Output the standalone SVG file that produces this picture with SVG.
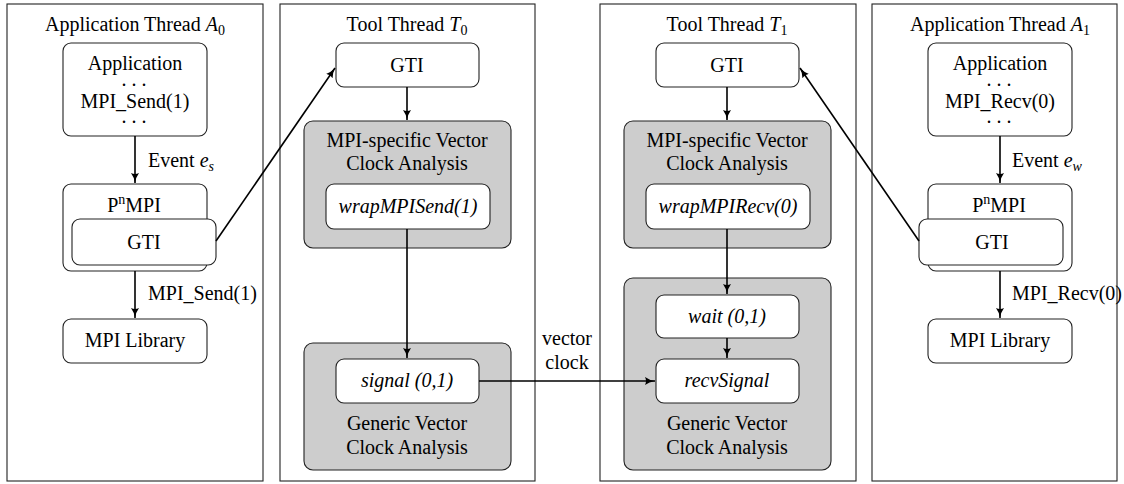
<svg xmlns="http://www.w3.org/2000/svg" width="1124" height="484" viewBox="0 0 1124 484">
  <defs>
    <style>
      text { font-family: 'Liberation Serif', 'Times New Roman', serif; font-size: 20px; fill: #000; text-anchor: middle; }
      .it { font-style: italic; }
      .lbl { text-anchor: start; }
      .sub { font-size: 14px; }
      .panel { fill: #fff; stroke: #222; stroke-width: 1.1; }
      .box { fill: #fff; stroke: #222; stroke-width: 1.1; }
      .gray { fill: #cdcdcd; stroke: #222; stroke-width: 1.1; }
      .conn { fill: none; stroke: #000; stroke-width: 1.6; }
    </style>
    <marker id="arrow" markerUnits="userSpaceOnUse" markerWidth="11" markerHeight="9" refX="10" refY="4.5" orient="auto">
      <path d="M0,0.5 Q4,3.5 10,4.5 Q4,5.5 0,8.5 Q2,4.5 0,0.5 z" fill="#000"/>
    </marker>
  </defs>

  <!-- thread panels -->
  <g id="panel-a0">
    <rect class="panel" x="7" y="4" width="256" height="477"/>
    <text x="135" y="31">Application Thread <tspan class="it">A</tspan><tspan class="sub" dy="4">0</tspan></text>
  </g>
  <g id="panel-t0">
    <rect class="panel" x="280" y="4" width="255" height="477"/>
    <text x="407" y="31">Tool Thread <tspan class="it">T</tspan><tspan class="sub" dy="4">0</tspan></text>
  </g>
  <g id="panel-t1">
    <rect class="panel" x="600" y="4" width="256" height="477"/>
    <text x="727" y="31">Tool Thread <tspan class="it">T</tspan><tspan class="sub" dy="4">1</tspan></text>
  </g>
  <g id="panel-a1">
    <rect class="panel" x="872" y="4" width="245" height="477"/>
    <text x="1000" y="31">Application Thread <tspan class="it">A</tspan><tspan class="sub" dy="4">1</tspan></text>
  </g>

  <!-- application thread A0 -->
  <g id="a0-application">
    <rect class="box" x="63" y="43" width="144" height="93" rx="8"/>
    <text x="135" y="70">Application</text>
    <text x="134" y="86">. . .</text>
    <text x="135" y="108">MPI_Send(1)</text>
    <text x="134" y="123">. . .</text>
  </g>
  <g id="a0-pnmpi">
    <rect class="box" x="63" y="184" width="144" height="87" rx="8"/>
    <text x="134" y="212">P<tspan class="sub" dy="-8">n</tspan><tspan dy="8">MPI</tspan></text>
  </g>
  <g id="a0-gti">
    <rect class="box" x="72" y="219" width="144" height="46" rx="8"/>
    <text x="144" y="249">GTI</text>
  </g>
  <g id="a0-mpilib">
    <rect class="box" x="63" y="319" width="144" height="44" rx="8"/>
    <text x="135" y="347">MPI Library</text>
  </g>

  <!-- tool thread T0 -->
  <g id="t0-gti">
    <rect class="box" x="336" y="43" width="143" height="44" rx="8"/>
    <text x="407" y="72">GTI</text>
  </g>
  <g id="t0-mpi-analysis">
    <rect class="gray" x="304" y="121" width="207" height="127" rx="9"/>
    <text x="407" y="147">MPI-specific Vector</text>
    <text x="407" y="170">Clock Analysis</text>
  </g>
  <g id="t0-wrap-send">
    <rect class="box" x="326" y="184" width="164" height="45" rx="8"/>
    <text class="it" x="408" y="213">wrapMPISend(1)</text>
  </g>
  <g id="t0-generic-analysis">
    <rect class="gray" x="304" y="343" width="207" height="127" rx="9"/>
    <text x="407" y="430">Generic Vector</text>
    <text x="407" y="454">Clock Analysis</text>
  </g>
  <g id="t0-signal">
    <rect class="box" x="336" y="359" width="143" height="44" rx="8"/>
    <text class="it" x="407" y="387">signal (0,1)</text>
  </g>

  <!-- tool thread T1 -->
  <g id="t1-gti">
    <rect class="box" x="656" y="43" width="143" height="44" rx="8"/>
    <text x="727" y="72">GTI</text>
  </g>
  <g id="t1-mpi-analysis">
    <rect class="gray" x="624" y="121" width="207" height="127" rx="9"/>
    <text x="727" y="147">MPI-specific Vector</text>
    <text x="727" y="170">Clock Analysis</text>
  </g>
  <g id="t1-wrap-recv">
    <rect class="box" x="646" y="184" width="164" height="45" rx="8"/>
    <text class="it" x="728" y="213">wrapMPIRecv(0)</text>
  </g>
  <g id="t1-generic-analysis">
    <rect class="gray" x="624" y="278" width="207" height="192" rx="9"/>
    <text x="727" y="430">Generic Vector</text>
    <text x="727" y="454">Clock Analysis</text>
  </g>
  <g id="t1-wait">
    <rect class="box" x="656" y="295" width="143" height="43" rx="8"/>
    <text class="it" x="727" y="323">wait (0,1)</text>
  </g>
  <g id="t1-recv-signal">
    <rect class="box" x="656" y="359" width="143" height="44" rx="8"/>
    <text class="it" x="727" y="387">recvSignal</text>
  </g>

  <!-- application thread A1 -->
  <g id="a1-application">
    <rect class="box" x="928" y="43" width="144" height="93" rx="8"/>
    <text x="1000" y="70">Application</text>
    <text x="999" y="86">. . .</text>
    <text x="1000" y="108">MPI_Recv(0)</text>
    <text x="999" y="123">. . .</text>
  </g>
  <g id="a1-pnmpi">
    <rect class="box" x="928" y="184" width="144" height="87" rx="8"/>
    <text x="999" y="212">P<tspan class="sub" dy="-8">n</tspan><tspan dy="8">MPI</tspan></text>
  </g>
  <g id="a1-gti">
    <rect class="box" x="919" y="219" width="144" height="46" rx="8"/>
    <text x="992" y="249">GTI</text>
  </g>
  <g id="a1-mpilib">
    <rect class="box" x="928" y="319" width="144" height="44" rx="8"/>
    <text x="1000" y="347">MPI Library</text>
  </g>

  <!-- connectors -->
  <g id="connectors">
    <line class="conn" x1="135" y1="136" x2="135" y2="183" marker-end="url(#arrow)"/>
    <line class="conn" x1="135" y1="271" x2="135" y2="318" marker-end="url(#arrow)"/>
    <line class="conn" x1="216" y1="241" x2="335" y2="68" marker-end="url(#arrow)"/>
    <line class="conn" x1="407" y1="87" x2="407" y2="120" marker-end="url(#arrow)"/>
    <line class="conn" x1="407" y1="229" x2="407" y2="358" marker-end="url(#arrow)"/>
    <line class="conn" x1="479" y1="381" x2="655" y2="381" marker-end="url(#arrow)"/>
    <line class="conn" x1="727" y1="87" x2="727" y2="120" marker-end="url(#arrow)"/>
    <line class="conn" x1="727" y1="229" x2="727" y2="294" marker-end="url(#arrow)"/>
    <line class="conn" x1="727" y1="338" x2="727" y2="358" marker-end="url(#arrow)"/>
    <line class="conn" x1="919" y1="241" x2="800" y2="68" marker-end="url(#arrow)"/>
    <line class="conn" x1="1000" y1="136" x2="1000" y2="183" marker-end="url(#arrow)"/>
    <line class="conn" x1="1000" y1="271" x2="1000" y2="318" marker-end="url(#arrow)"/>
    <text class="lbl" x="148" y="167">Event <tspan class="it">e</tspan><tspan class="it sub" dy="4">s</tspan></text>
    <text class="lbl" x="148" y="300">MPI_Send(1)</text>
    <text class="lbl" x="1012" y="167">Event <tspan class="it">e</tspan><tspan class="it sub" dy="4">w</tspan></text>
    <text class="lbl" x="1012" y="300">MPI_Recv(0)</text>
    <text x="567" y="345">vector</text>
    <text x="567" y="369">clock</text>
  </g>
</svg>
